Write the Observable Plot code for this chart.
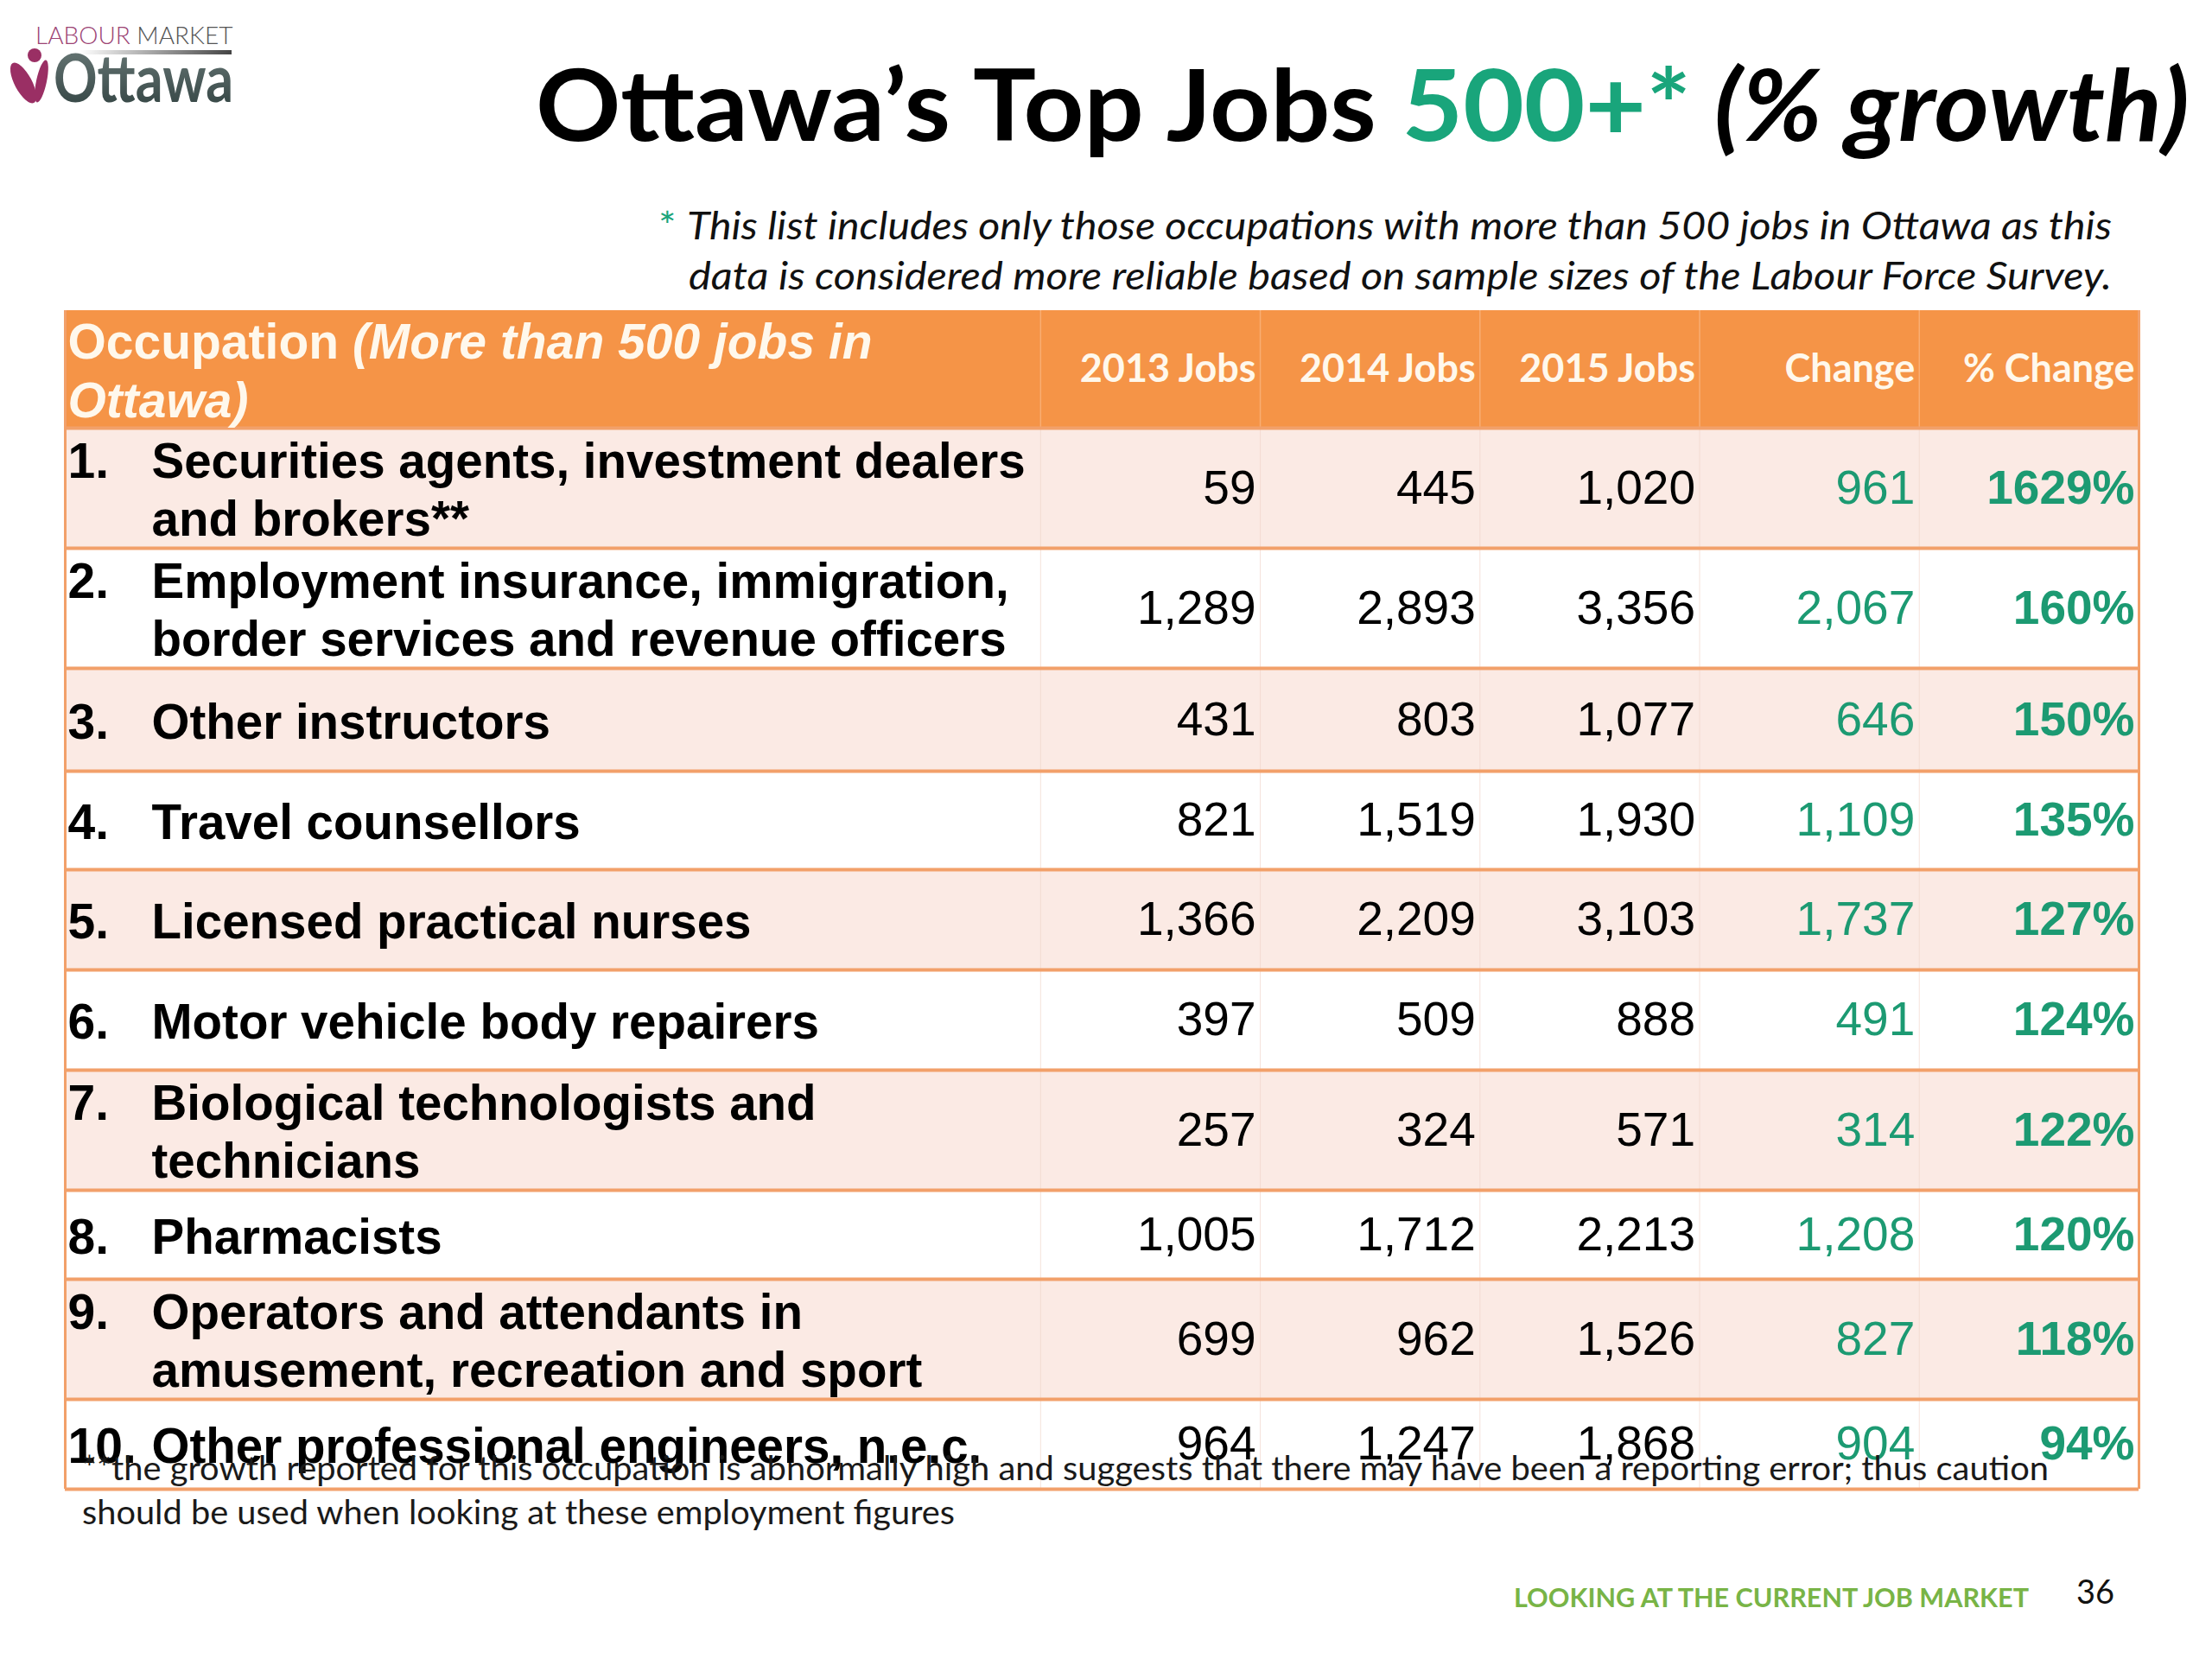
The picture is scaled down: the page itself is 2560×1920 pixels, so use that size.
<!DOCTYPE html>
<html><head><meta charset="utf-8">
<script src="https://cdn.jsdelivr.net/npm/d3@7"></script>
<script src="https://cdn.jsdelivr.net/npm/@observablehq/plot@0.6"></script>
<style>
html,body{margin:0;padding:0;background:#fff;}
#page{position:relative;width:2560px;height:1920px;overflow:hidden;background:#fff;}
#page svg{position:absolute;left:0;}
</style></head>
<body><div id="page"></div>
<script>
// ---------------- data ----------------
const occupations = [
  "Securities agents, investment dealers\nand brokers**",
  "Employment insurance, immigration,\nborder services and revenue officers",
  "Other instructors",
  "Travel counsellors",
  "Licensed practical nurses",
  "Motor vehicle body repairers",
  "Biological technologists and\ntechnicians",
  "Pharmacists",
  "Operators and attendants in\namusement, recreation and sport",
  "Other professional engineers, n.e.c."
];
const jobs2013 = [59, 1289, 431, 821, 1366, 397, 257, 1005, 699, 964];
const jobs2014 = [445, 2893, 803, 1519, 2209, 509, 324, 1712, 962, 1247];
const jobs2015 = [1020, 3356, 1077, 1930, 3103, 888, 571, 2213, 1526, 1868];
const jobsChange = [961, 2067, 646, 1109, 1737, 491, 314, 1208, 827, 904];
const pctChange = [1629, 160, 150, 135, 127, 124, 122, 120, 118, 94];
const columnHeaders = ["2013 Jobs", "2014 Jobs", "2015 Jobs", "Change", "% Change"];
const occupationHeaderMain = "Occupation";
const occupationHeaderNote = "(More than 500 jobs in\nOttawa)";

const titleParts = ["Ottawa’s Top Jobs ", "500+*", " (% growth)"];
const noteLines = ["* ", "This list includes only those occupations with more than 500 jobs in Ottawa as this",
                   "data is considered more reliable based on sample sizes of the Labour Force Survey."];
const footnoteLines = ["**the growth reported for this occupation is abnormally high and suggests that there may have been a reporting error; thus caution",
                       "should be used when looking at these employment figures"];
const footerText = "LOOKING AT THE CURRENT JOB MARKET";
const pageNumber = "36";
const logoTop = ["LABOUR", " MARKET"];
const logoName = "Ottawa";

// ---------------- layout / style ----------------
const ORANGE = "#F59447", PINK = "#FBEAE4", WHITE = "#FFFFFF", LINE = "#F2A06A";
const CREAM = "#FFF8EC", GREEN = "#1C9A72", TITLE_GREEN = "#19A57B", FOOT_GREEN = "#78B446";

const colUnits = [4.44, 1, 1, 1, 1, 1];                                   // relative column widths
const rowUnits = [136, 139, 139, 119, 114, 116, 116, 139, 103, 139, 104]; // relative row heights (header first)
const xEdges = Array.from(d3.cumsum([0, ...colUnits]));
const XMAX = xEdges[xEdges.length - 1];
const yEdges = Array.from(d3.cumsum([0, ...rowUnits]));
const YMAX = yEdges[yEdges.length - 1];

const bands = rowUnits.map((u, i) => ({
  i, x1: 0, x2: XMAX, y1: yEdges[i], y2: yEdges[i + 1], yc: (yEdges[i] + yEdges[i + 1]) / 2,
  kind: i === 0 ? "header" : (i % 2 === 1 ? "pink" : "white")
}));
const fillOf = {header: ORANGE, pink: PINK, white: WHITE};

const series = [jobs2013, jobs2014, jobs2015, jobsChange, pctChange];
const cells = [];
occupations.forEach((occ, r) => series.forEach((s, c) => cells.push({
  r, c, value: s[r], x: xEdges[c + 2], y: bands[r + 1].yc,
  kind: c < 3 ? "jobs" : (c === 3 ? "change" : "pct")
})));
const rows = occupations.map((o, r) => ({
  label: o, rank: `${r + 1}.` + (o.includes("\n") ? "\n" : ""), x: 0, y: bands[r + 1].yc
}));
const fmt = d3.format(",");
const ARIAL = "Liberation Sans, Arial, sans-serif";
const CAL = "Lato, Carlito, Calibri, sans-serif";

const W = 2560, H = 1400, TOP = 340;
const chart = Plot.plot({
  width: W, height: H,
  marginTop: 19, marginBottom: 17, marginLeft: 75, marginRight: 85,
  x: {domain: [0, XMAX], axis: null},
  y: {domain: [0, YMAX], reverse: true, axis: null},
  style: {background: "transparent", overflow: "visible"},
  marks: [
    Plot.rect(bands, {x1: "x1", x2: "x2", y1: "y1", y2: "y2", fill: d => fillOf[d.kind]}),
    Plot.ruleX(xEdges.slice(1, -1), {y1: 0, y2: yEdges[1], stroke: "#F9AD72", strokeWidth: 1.5}),
    Plot.ruleX(xEdges.slice(1, -1), {y1: yEdges[1], y2: YMAX, stroke: "#F1D6CA", strokeWidth: 1, strokeOpacity: 0.7}),
    Plot.ruleY(yEdges.slice(1), {x1: 0, x2: XMAX, stroke: LINE, strokeWidth: 4}),
    Plot.ruleX([0, XMAX], {y1: 0, y2: YMAX, stroke: LINE, strokeWidth: 3}),
    // header
    Plot.text([occupationHeaderMain + " " + occupationHeaderNote], {
      x: 0, y: bands[0].yc, text: d => d, textAnchor: "start", dx: 3,
      fill: CREAM, fontSize: 57, fontWeight: "bold", fontFamily: ARIAL, lineHeight: 1.18
    }),
    Plot.text(columnHeaders, {
      x: (d, i) => xEdges[i + 2], y: () => bands[0].yc, text: d => d, textAnchor: "end", dx: -5,
      fill: CREAM, fontSize: 45, fontWeight: "bold", fontFamily: CAL
    }),
    // row labels
    Plot.text(rows, {x: "x", y: "y", text: "rank", textAnchor: "start", dx: 3,
      fill: "#000", fontSize: 57, fontWeight: "bold", fontFamily: ARIAL, lineHeight: 1.18}),
    Plot.text(rows, {x: "x", y: "y", text: "label", textAnchor: "start", dx: 100,
      fill: "#000", fontSize: 56.5, fontWeight: "bold", fontFamily: ARIAL, lineHeight: 1.19}),
    // values
    Plot.text(cells.filter(d => d.kind === "jobs"), {x: "x", y: "y", text: d => fmt(d.value),
      textAnchor: "end", dx: -5, fill: "#000", fontSize: 55, fontFamily: ARIAL}),
    Plot.text(cells.filter(d => d.kind === "change"), {x: "x", y: "y", text: d => fmt(d.value),
      textAnchor: "end", dx: -5, fill: GREEN, fontSize: 55, fontFamily: ARIAL}),
    Plot.text(cells.filter(d => d.kind === "pct"), {x: "x", y: "y", text: d => d.value + "%",
      textAnchor: "end", dx: -5, fill: GREEN, fontSize: 55, fontWeight: "bold", fontFamily: ARIAL})
  ]
});
chart.style.top = TOP + "px";
document.getElementById("page").appendChild(chart);

// mixed regular / italic header
d3.select(chart).selectAll("text").each(function () {
  if (!this.textContent.startsWith(occupationHeaderMain)) return;
  const tsp = d3.select(this).selectAll("tspan").nodes();
  const parts = occupationHeaderNote.split("\n");
  if (tsp.length >= 2) {
    const first = d3.select(tsp[0]);
    first.text(null);
    first.append("tspan").text(occupationHeaderMain + " ");
    first.append("tspan").attr("font-style", "italic").text(parts[0]);
    d3.select(tsp[1]).attr("font-style", "italic");
  }
});

// ---------------- overlay texts ----------------
const ov = d3.select("#page").append("svg").attr("width", 2560).attr("height", 1920).style("top", "0px");
const defs = ov.append("defs");
const lg = defs.append("linearGradient").attr("id", "lineGrad");
lg.append("stop").attr("offset", "0%").attr("stop-color", "#ffffff");
lg.append("stop").attr("offset", "100%").attr("stop-color", "#444");
const tg = defs.append("linearGradient").attr("id", "txtGrad").attr("x1", 0).attr("x2", 0).attr("y1", 0).attr("y2", 1);
tg.append("stop").attr("offset", "0%").attr("stop-color", "#7d8c8a");
tg.append("stop").attr("offset", "100%").attr("stop-color", "#2f403f");

// logo (one text element with two lines)
const logo = ov.append("g");
logo.append("rect").attr("x", 92).attr("y", 58).attr("width", 176).attr("height", 5).attr("fill", "url(#lineGrad)");
logo.append("ellipse").attr("cx", 27).attr("cy", 96).attr("rx", 10).attr("ry", 26).attr("transform", "rotate(-28 27 96)").attr("fill", "#9A2F64");
logo.append("ellipse").attr("cx", 48).attr("cy", 94).attr("rx", 6).attr("ry", 25).attr("transform", "rotate(12 48 94)").attr("fill", "#9A2F64");
logo.append("circle").attr("cx", 40).attr("cy", 64).attr("r", 8).attr("fill", "#9A2F64");
const lt = logo.append("text").attr("font-family", CAL);
lt.append("tspan").attr("x", 41).attr("y", 51).attr("font-weight", 300).attr("font-size", 28).attr("fill", "#9C4474").text(logoTop[0]);
lt.append("tspan").attr("font-weight", 300).attr("font-size", 28).attr("fill", "#555").text(logoTop[1]);
lt.append("tspan").attr("x", 62).attr("y", 118).attr("font-weight", 700).attr("font-size", 76)
  .attr("fill", "url(#txtGrad)").attr("textLength", 208).attr("lengthAdjust", "spacingAndGlyphs").text(logoName);

// title
const title = ov.append("text").attr("x", 620).attr("y", 163).attr("font-family", CAL).attr("font-weight", 700)
  .attr("font-size", 114).attr("fill", "#000").attr("textLength", 1914).attr("lengthAdjust", "spacingAndGlyphs");
title.append("tspan").text(titleParts[0]);
title.append("tspan").attr("fill", TITLE_GREEN).text(titleParts[1]);
title.append("tspan").attr("font-style", "italic").text(titleParts[2]);

// note under title
const n1 = ov.append("text").attr("x", 762).attr("y", 277).attr("font-family", CAL).attr("font-style", "italic")
  .attr("font-size", 45).attr("fill", "#111").attr("textLength", 1682).attr("lengthAdjust", "spacingAndGlyphs");
n1.append("tspan").attr("fill", TITLE_GREEN).attr("font-style", "normal").text(noteLines[0]);
n1.append("tspan").text(noteLines[1]);
ov.append("text").attr("x", 797).attr("y", 335).attr("font-family", CAL).attr("font-style", "italic")
  .attr("font-size", 45).attr("fill", "#111").attr("textLength", 1647).attr("lengthAdjust", "spacingAndGlyphs")
  .text(noteLines[2]);

// footnote
ov.append("text").attr("x", 95).attr("y", 1713).attr("font-family", CAL).attr("font-size", 38).attr("fill", "#1a1a1a")
  .attr("textLength", 2276).attr("lengthAdjust", "spacingAndGlyphs").text(footnoteLines[0]);
ov.append("text").attr("x", 95).attr("y", 1764).attr("font-family", CAL).attr("font-size", 38).attr("fill", "#1a1a1a")
  .attr("textLength", 1010).attr("lengthAdjust", "spacingAndGlyphs").text(footnoteLines[1]);

// footer
ov.append("text").attr("x", 1752).attr("y", 1860).attr("font-family", CAL).attr("font-weight", 700).attr("font-size", 30)
  .attr("fill", FOOT_GREEN).attr("textLength", 596).attr("lengthAdjust", "spacingAndGlyphs").text(footerText);
ov.append("text").attr("x", 2403).attr("y", 1856).attr("font-family", CAL).attr("font-size", 38)
  .attr("fill", "#111").text(pageNumber);
</script>
</body></html>
